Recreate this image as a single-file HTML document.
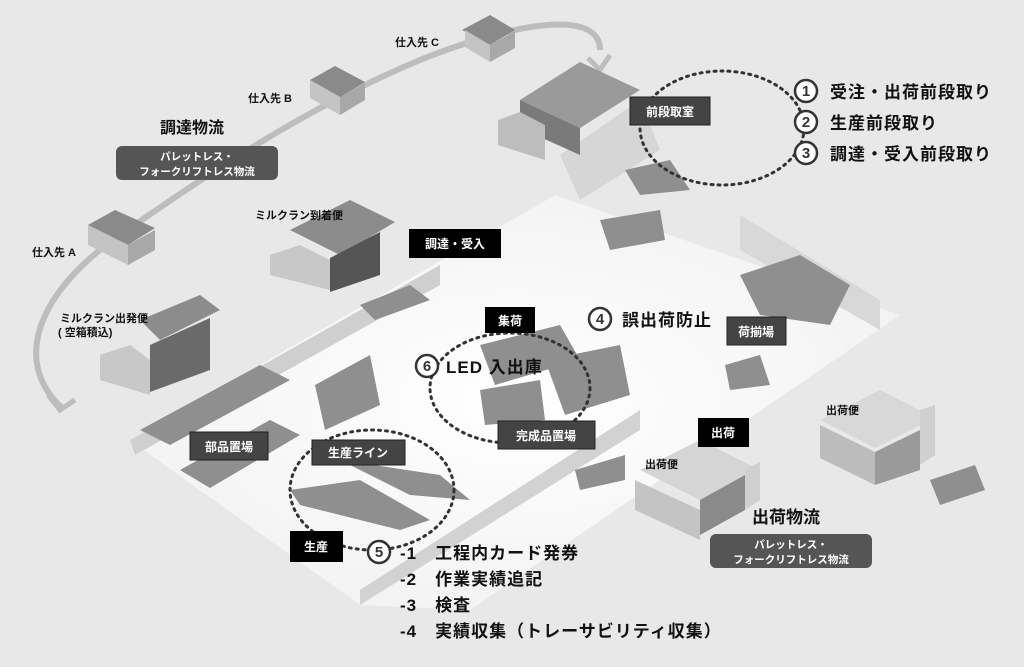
<!DOCTYPE html>
<html><head><meta charset="utf-8"><style>
body{margin:0;width:1024px;height:667px;overflow:hidden;background:#e9e9e9;font-family:"Liberation Sans","Noto Sans CJK JP",sans-serif}
svg{display:block}
text{font-family:"Liberation Sans","Noto Sans CJK JP",sans-serif;font-weight:bold}
</style></head><body>
<svg width="1024" height="667" viewBox="0 0 1024 667">
<defs>
<radialGradient id="fl" cx="0.5" cy="0.5" r="0.6"><stop offset="0" stop-color="#ffffff"/><stop offset="1" stop-color="#f1f1f1"/></radialGradient>
</defs>
<rect width="1024" height="667" fill="#e8e8e8"/>
<polygon points="130,440 555,195 900,315 470,610 360,605" fill="url(#fl)"/>
<polygon points="740,215 880,300 880,330 740,250" fill="#d8d8d8"/>
<polygon points="130,440 440,265 440,285 135,455" fill="#cfcfcf"/>
<polygon points="360,590 640,410 640,430 360,605" fill="#d2d2d2"/>
<polygon points="560,155 640,100 660,150 580,200" fill="#d6d6d6"/>
<path d="M62,408 C10,360 40,290 120,235 C200,180 300,110 420,60 C520,20 600,10 600,50" fill="none" stroke="#bdbdbd" stroke-width="6"/>
<path d="M588,58 L600,70 L610,55" fill="none" stroke="#bdbdbd" stroke-width="5"/>
<path d="M48,395 L60,410 L75,400" fill="none" stroke="#bdbdbd" stroke-width="5"/>
<g fill="#8a8a8a"><polygon points="88,225 115,210 155,228 128,245"/><polygon points="310,80 335,66 365,82 340,97"/><polygon points="462,30 490,15 515,30 490,45"/></g>
<g fill="#c4c4c4"><polygon points="88,225 128,245 128,265 88,245"/><polygon points="310,80 340,97 340,115 310,98"/><polygon points="465,30 490,45 490,62 465,47"/></g>
<g fill="#a8a8a8"><polygon points="128,245 155,230 155,250 128,265"/><polygon points="340,97 365,83 365,100 340,115"/><polygon points="490,45 515,31 515,48 490,62"/></g>
<g>
<polygon points="520,100 580,62 640,90 580,128" fill="#9a9a9a"/><polygon points="520,100 580,128 580,155 520,128" fill="#7a7a7a"/><polygon points="498,120 520,112 545,125 545,160 498,145" fill="#bdbdbd"/>
<polygon points="290,230 350,200 395,222 340,255" fill="#8c8c8c"/><polygon points="270,255 300,245 330,260 330,290 270,275" fill="#c8c8c8"/><polygon points="330,258 380,232 380,275 330,292" fill="#555"/>
<polygon points="140,320 200,295 220,310 160,340" fill="#8c8c8c"/><polygon points="100,355 130,345 150,360 150,395 100,380" fill="#c8c8c8"/><polygon points="150,345 210,318 210,370 150,392" fill="#6a6a6a"/>
<polygon points="640,470 700,440 760,470 700,500" fill="#d5d5d5"/><polygon points="635,480 700,510 700,540 635,510" fill="#c4c4c4"/><polygon points="700,500 745,475 745,510 700,535" fill="#8a8a8a"/><polygon points="745,470 760,462 760,500 745,510" fill="#d0d0d0"/>
<polygon points="820,420 880,390 935,418 875,448" fill="#d8d8d8"/><polygon points="820,425 875,452 875,485 820,458" fill="#bcbcbc"/><polygon points="875,452 920,430 920,470 875,485" fill="#9a9a9a"/><polygon points="920,410 935,405 935,455 920,465" fill="#d0d0d0"/>
</g>
<g fill="#8f8f8f">
<polygon points="140,430 260,365 290,380 170,445"/><polygon points="180,470 270,420 300,435 210,488"/><polygon points="315,385 370,355 380,405 325,430"/>
<polygon points="480,345 560,325 580,360 495,385"/><polygon points="545,360 620,345 630,395 565,415"/><polygon points="480,390 540,380 545,420 485,425"/>
<polygon points="740,275 800,255 850,285 830,325 760,315"/><polygon points="625,170 670,160 690,190 640,195"/><polygon points="600,220 660,210 665,240 610,250"/>
<polygon points="360,305 410,285 430,300 375,320"/><polygon points="290,490 360,480 430,520 400,530 300,505"/><polygon points="340,460 440,475 470,500 410,495"/>
<polygon points="575,470 625,455 625,480 580,490"/><polygon points="930,480 975,465 985,490 940,505"/><polygon points="725,365 760,355 770,385 730,390"/>
</g>
<g fill="none" stroke="#333" stroke-width="3" stroke-dasharray="2,5" stroke-linecap="round">
<ellipse cx="722" cy="128" rx="82" ry="57"/><ellipse cx="510" cy="388" rx="80" ry="55"/><ellipse cx="372" cy="490" rx="82" ry="60"/>
</g>
<g font-size="11" fill="#111">
<text x="395" y="46">仕入先 C</text><text x="248" y="102">仕入先 B</text><text x="32" y="256">仕入先 A</text>
<text x="255" y="219">ミルクラン到着便</text><text x="60" y="322">ミルクラン出発便</text><text x="58" y="336">( 空箱積込)</text>
<text x="645" y="468">出荷便</text><text x="826" y="414">出荷便</text>
</g>
<text x="160" y="133" font-size="16" fill="#111">調達物流</text>
<rect x="116" y="146" width="162" height="34" rx="6" fill="#555"/>
<text x="197" y="160" font-size="10.5" fill="#fff" text-anchor="middle" font-weight="normal">パレットレス・</text>
<text x="197" y="175" font-size="10.5" fill="#fff" text-anchor="middle" font-weight="normal">フォークリフトレス物流</text>
<text x="752" y="523" font-size="17" fill="#111">出荷物流</text>
<rect x="710" y="534" width="162" height="34" rx="6" fill="#555"/>
<text x="791" y="548" font-size="10.5" fill="#fff" text-anchor="middle" font-weight="normal">パレットレス・</text>
<text x="791" y="563" font-size="10.5" fill="#fff" text-anchor="middle" font-weight="normal">フォークリフトレス物流</text>
<g font-size="12" fill="#fff" text-anchor="middle">
<rect x="409" y="229" width="92" height="29" fill="#000"/><text x="455" y="248">調達・受入</text>
<rect x="630" y="97" width="80" height="28" fill="#444" stroke="#222"/><text x="670" y="116">前段取室</text>
<rect x="727" y="317" width="59" height="28" fill="#444" stroke="#222"/><text x="756" y="336">荷揃場</text>
<rect x="485" y="307" width="50" height="26" fill="#000"/><text x="510" y="325">集荷</text>
<rect x="498" y="421" width="97" height="28" fill="#444" stroke="#222"/><text x="546" y="440">完成品置場</text>
<rect x="190" y="432" width="78" height="28" fill="#444" stroke="#222"/><text x="229" y="451">部品置場</text>
<rect x="312" y="440" width="93" height="25" fill="#444" stroke="#222"/><text x="358" y="457">生産ライン</text>
<rect x="290" y="531" width="53" height="31" fill="#000"/><text x="316" y="551">生産</text>
<rect x="698" y="418" width="51" height="29" fill="#000"/><text x="723" y="437">出荷</text>
</g>
<g fill="#fff" stroke="#333" stroke-width="2.5">
<circle cx="806" cy="91" r="11"/><circle cx="806" cy="122" r="11"/><circle cx="806" cy="153" r="11"/>
<circle cx="600" cy="319" r="11"/><circle cx="427" cy="366" r="11"/><circle cx="379" cy="552" r="11"/>
</g>
<g font-size="15" fill="#333" text-anchor="middle">
<text x="806" y="96">1</text><text x="806" y="127">2</text><text x="806" y="158">3</text><text x="600" y="324">4</text><text x="427" y="371">6</text><text x="379" y="557">5</text>
</g>
<g font-size="17" fill="#111" letter-spacing="1">
<text x="830" y="98">受注・出荷前段取り</text><text x="830" y="129">生産前段取り</text><text x="830" y="160">調達・受入前段取り</text>
<text x="622" y="326">誤出荷防止</text><text x="446" y="373">LED 入出庫</text>
<text x="400" y="559">-1　工程内カード発券</text><text x="400" y="585">-2　作業実績追記</text><text x="400" y="611">-3　検査</text><text x="400" y="637">-4　実績収集（トレーサビリティ収集）</text>
</g>
</svg>
</body></html>
